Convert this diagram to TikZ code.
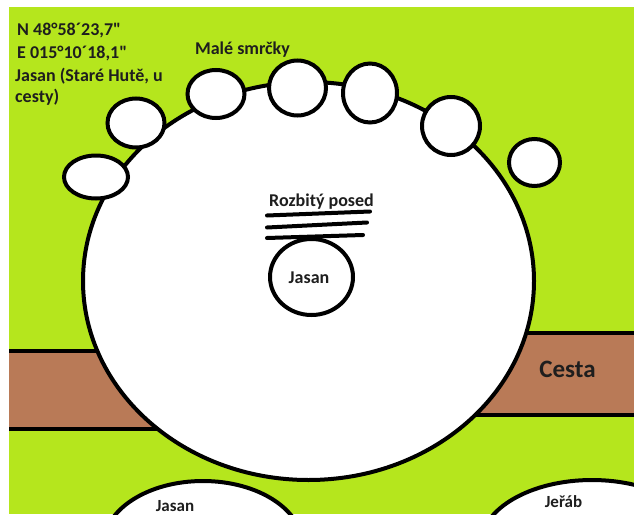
\documentclass[tikz,border=0pt]{standalone}
\usepackage{fontspec}
\setmainfont{Carlito}[Ligatures=TeXOff]
\usetikzlibrary{shapes.geometric}
\definecolor{grass}{HTML}{B5E61D}
\definecolor{road}{HTML}{B97A57}
\definecolor{ink}{HTML}{1E1E1E}
\tikzset{
  tree/.style={ellipse,draw=black,line width=4pt,fill=white,inner sep=0pt},
  lbl/.style={inner sep=0pt,anchor=base,text=ink,font=\bfseries\fontsize{18}{22}\selectfont},
  lbls/.style={lbl,font=\bfseries\fontsize{17}{20}\selectfont},
  lblw/.style={lbl,anchor=base west},
  edge/.style={draw=black,line width=4pt},
  plank/.style={draw=black,line width=4pt,line cap=round},
}

\begin{document}
\begin{tikzpicture}[x=1pt,y=-1pt]
  \useasboundingbox (0,0) rectangle (634,514);
  \clip (0,0) rectangle (634,514);
  \fill[white] (0,0) rectangle (634,514);
  \fill[grass] (9,7) rectangle (634,514);
  % road
  \fill[road] (9,350.5) rectangle (220,428.5);
  \draw[edge] (9,350.5) -- (220,350.5) (9,428.5) -- (220,428.5);
  \fill[road] (450,333) rectangle (634,415);
  \draw[edge] (450,333) -- (634,333) (450,415) -- (634,415);
  \node[lbl,font=\bfseries\fontsize{25}{30}\selectfont] (cesta) at (567.5,377) {Cesta};
  % clearing and small spruces
  \node[tree,minimum width=451pt,minimum height=398pt] (area) at (308.5,281) {};
  \foreach \n/\x/\y/\w/\h in {1/96/177/64/43,2/136/123/57/49,3/216/94/57/48,4/297.5/88/57/55,
                              5/370/93/54/59,6/451/126/58/58,7/534.5/162.5/51/47}
    \node[tree,minimum width=\w pt,minimum height=\h pt] (s\n) at (\x,\y) {};
  \node[lbl] (smrcky) at (242.5,54) {Malé smrčky};
  % ash with broken stand
  \node[tree,minimum width=83pt,minimum height=76pt] (jasan) at (311.5,277) {};
  \node[lbl] (jasanlbl) at (309,283) {Jasan};
  \foreach \xa/\ya/\xb/\yb in {267/215.5/370/211.5,267/227.5/367/222.5,267/238/363/235}
    \draw[plank] (\xa,\ya) -- (\xb,\yb);
  \node[lbl] (posed) at (321.5,206) {Rozbitý posed};
  % bottom trees
  \node[tree,minimum width=199pt,minimum height=128pt] (jasanb) at (203,545) {};
  \node[lbls] (jasanblbl) at (175,511) {Jasan};
  \node[tree,minimum width=223pt,minimum height=130pt] (jerab) at (592,545) {};
  \node[lbls] (jerablbl) at (563.5,507) {Jeřáb};
  % coordinates
  \foreach \t/\x/\y [count=\i] in {{N 48°58´23,7"}/17/35,{E 015°10´18,1"}/17/58,
                                   {Jasan (Staré Hutě, u}/15/81,{cesty)}/15/102}
    \node[lblw] (crd\i) at (\x,\y) {\t};
\end{tikzpicture}
\end{document}
